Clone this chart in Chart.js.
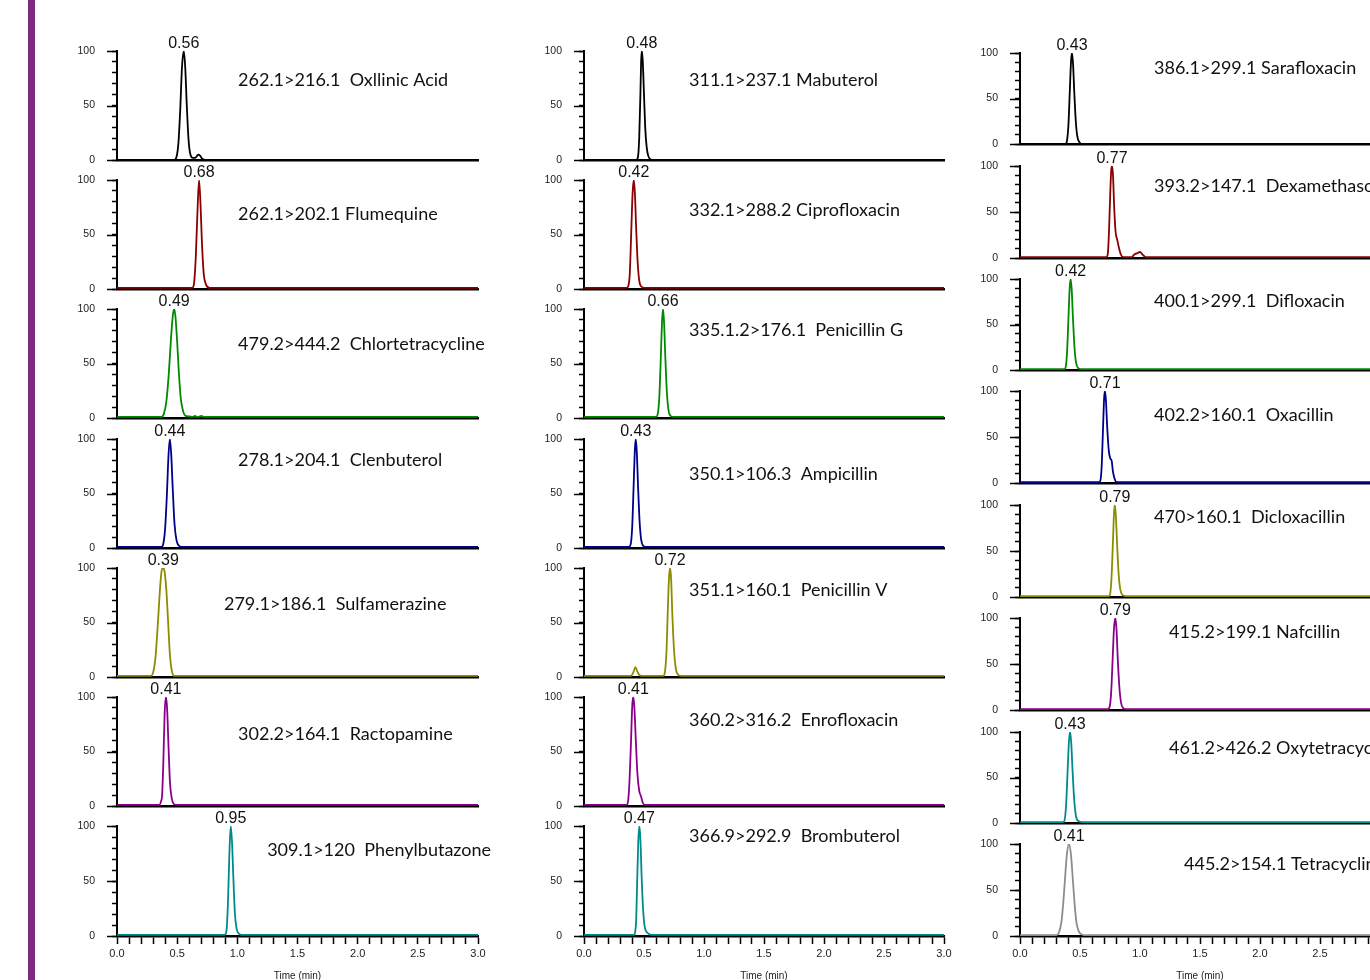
<!DOCTYPE html>
<html><head><meta charset="utf-8">
<script src="https://cdn.jsdelivr.net/npm/chart.js@4.4.1/dist/chart.umd.min.js"></script>
<style>
html,body{margin:0;padding:0;background:#fff;width:1370px;height:980px;overflow:hidden;position:relative;}
#bar{position:absolute;left:28px;top:0;width:7px;height:980px;background:#7B2C7F;}
canvas{position:absolute;}
</style></head><body>
<div id="bar"></div>
<script>
// ---------------- DATA ----------------
const compoundLabels = [
  '262.1>216.1  Oxllinic Acid', '262.1>202.1 Flumequine', '479.2>444.2  Chlortetracycline',
  '278.1>204.1  Clenbuterol', '279.1>186.1  Sulfamerazine', '302.2>164.1  Ractopamine',
  '309.1>120  Phenylbutazone',
  '311.1>237.1 Mabuterol', '332.1>288.2 Ciprofloxacin', '335.1.2>176.1  Penicillin G',
  '350.1>106.3  Ampicillin', '351.1>160.1  Penicillin V', '360.2>316.2  Enrofloxacin',
  '366.9>292.9  Brombuterol',
  '386.1>299.1 Sarafloxacin', '393.2>147.1  Dexamethasone', '400.1>299.1  Difloxacin',
  '402.2>160.1  Oxacillin', '470>160.1  Dicloxacillin', '415.2>199.1 Nafcillin',
  '461.2>426.2 Oxytetracycline', '445.2>154.1 Tetracycline'
];
const retentionLabels = [
  '0.56','0.68','0.49','0.44','0.39','0.41','0.95',
  '0.48','0.42','0.66','0.43','0.72','0.41','0.47',
  '0.43','0.77','0.42','0.71','0.79','0.79','0.43','0.41'
];
const xTickLabels = ['0.0','0.5','1.0','1.5','2.0','2.5','3.0'];
const yTickLabels = ['0','50','100'];
const axisTitle = 'Time (min)';

// traces: [time (min), relative intensity (%)]
const traceOxolinic = [[0,0],[0.475,0],[0.495,3],[0.51,15],[0.525,45],[0.54,85],[0.555,100],[0.567,85],[0.58,50],[0.595,18],[0.61,5],[0.63,2],[0.65,2],[0.675,5],[0.69,4],[0.71,1],[0.75,0],[3,0]];
const traceFlumequine = [[0,1],[0.625,1],[0.64,5],[0.655,30],[0.67,75],[0.682,100],[0.694,78],[0.705,45],[0.72,15],[0.74,4],[0.77,1],[3,1]];
const traceChlortetracycline = [[0,1],[0.37,1],[0.39,4],[0.41,15],[0.43,40],[0.45,75],[0.465,95],[0.475,100],[0.485,94],[0.5,70],[0.515,40],[0.53,18],[0.55,6],[0.57,2],[0.6,1.5],[0.63,1],[0.65,2],[0.66,1],[0.68,1],[0.7,2],[0.72,1],[3,1]];
const traceClenbuterol = [[0,1],[0.37,1],[0.385,4],[0.4,18],[0.415,50],[0.428,85],[0.439,100],[0.45,87],[0.463,55],[0.478,22],[0.495,7],[0.515,2],[0.536,1],[3,1]];
const traceSulfamerazine = [[0,1],[0.28,1],[0.3,4],[0.32,18],[0.34,50],[0.36,85],[0.372,98],[0.384,100],[0.395,97],[0.41,80],[0.425,50],[0.44,20],[0.455,6],[0.475,1],[3,1]];
const traceRactopamine = [[0,1],[0.355,1],[0.365,4],[0.375,10],[0.385,40],[0.396,85],[0.406,100],[0.416,90],[0.428,55],[0.44,22],[0.455,7],[0.47,2],[0.49,1],[3,1]];
const tracePhenylbutazone = [[0,1],[0.895,1],[0.91,5],[0.922,30],[0.934,75],[0.945,100],[0.956,85],[0.968,50],[0.98,20],[0.995,6],[1.015,2],[1.035,1],[3,1]];
const traceMabuterol = [[0,0],[0.435,0],[0.45,3],[0.46,20],[0.47,60],[0.476,90],[0.482,100],[0.49,90],[0.5,60],[0.51,30],[0.522,12],[0.535,4],[0.55,1],[0.565,0],[3,0]];
const traceCiprofloxacin = [[0,1],[0.355,1],[0.37,3],[0.382,15],[0.393,50],[0.405,88],[0.415,100],[0.424,88],[0.435,55],[0.447,25],[0.46,8],[0.48,2],[0.5,1],[3,1]];
const tracePenicillinG = [[0,1],[0.6,1],[0.615,4],[0.628,20],[0.64,55],[0.65,88],[0.658,100],[0.667,88],[0.678,55],[0.69,25],[0.703,8],[0.72,2],[0.74,1],[3,1]];
const traceAmpicillin = [[0,1],[0.375,1],[0.39,4],[0.402,20],[0.413,55],[0.423,88],[0.431,100],[0.44,88],[0.451,55],[0.463,25],[0.476,8],[0.493,2],[0.51,1],[3,1]];
const tracePenicillinV = [[0,1],[0.39,1],[0.41,4],[0.428,9],[0.445,5],[0.46,2],[0.48,1],[0.66,1],[0.675,5],[0.688,25],[0.698,60],[0.708,90],[0.717,100],[0.726,90],[0.737,55],[0.75,25],[0.765,8],[0.785,2],[0.81,1],[3,1]];
const traceEnrofloxacin = [[0,1],[0.355,1],[0.368,5],[0.38,25],[0.392,60],[0.402,92],[0.411,100],[0.42,90],[0.432,60],[0.445,30],[0.46,14],[0.475,9],[0.49,3],[0.505,1],[3,1]];
const traceBrombuterol = [[0,1],[0.42,1],[0.428,5],[0.435,15],[0.442,45],[0.452,85],[0.461,100],[0.47,88],[0.48,55],[0.492,25],[0.505,9],[0.52,4],[0.54,2],[0.56,1],[3,1]];
const traceSarafloxacin = [[0,0],[0.38,0],[0.392,4],[0.404,22],[0.415,58],[0.425,90],[0.433,100],[0.442,88],[0.453,55],[0.465,25],[0.478,8],[0.495,2],[0.512,0],[3,0]];
const traceDexamethasone = [[0,1],[0.72,1],[0.732,5],[0.742,30],[0.752,70],[0.76,95],[0.767,100],[0.775,90],[0.785,55],[0.797,28],[0.81,20],[0.823,12],[0.84,4],[0.86,1],[0.93,1],[0.955,4],[0.975,5],[1.0,6.5],[1.02,4],[1.047,1],[3,1]];
const traceDifloxacin = [[0,1],[0.37,1],[0.382,4],[0.393,22],[0.404,58],[0.414,90],[0.422,100],[0.431,88],[0.442,55],[0.454,25],[0.467,8],[0.485,2],[0.508,1],[3,1]];
const traceOxacillin = [[0,1],[0.66,1],[0.672,4],[0.682,22],[0.692,60],[0.701,92],[0.708,100],[0.716,90],[0.727,60],[0.74,35],[0.752,27],[0.764,24],[0.775,12],[0.79,4],[0.806,1],[3,1]];
const traceDicloxacillin = [[0,1],[0.74,1],[0.752,4],[0.763,22],[0.774,58],[0.783,90],[0.79,100],[0.799,88],[0.81,55],[0.822,25],[0.836,8],[0.855,2],[0.88,1],[3,1]];
const traceNafcillin = [[0,1],[0.732,1],[0.748,4],[0.76,20],[0.772,55],[0.783,88],[0.794,100],[0.804,88],[0.815,55],[0.828,25],[0.842,8],[0.86,2],[0.883,1],[3,1]];
const traceOxytetracycline = [[0,1],[0.36,1],[0.373,4],[0.385,22],[0.397,58],[0.408,90],[0.417,100],[0.427,88],[0.439,55],[0.452,25],[0.466,8],[0.488,2],[0.514,1],[3,1]];
const traceTetracycline = [[0,1],[0.305,1],[0.325,4],[0.345,15],[0.36,35],[0.375,62],[0.39,88],[0.408,100],[0.425,88],[0.44,62],[0.455,35],[0.47,15],[0.49,5],[0.51,2],[0.53,1],[3,1]];

const traces = [
  traceOxolinic, traceFlumequine, traceChlortetracycline, traceClenbuterol, traceSulfamerazine, traceRactopamine, tracePhenylbutazone,
  traceMabuterol, traceCiprofloxacin, tracePenicillinG, traceAmpicillin, tracePenicillinV, traceEnrofloxacin, traceBrombuterol,
  traceSarafloxacin, traceDexamethasone, traceDifloxacin, traceOxacillin, traceDicloxacillin, traceNafcillin, traceOxytetracycline, traceTetracycline
];

// ---------------- LAYOUT / STYLE ----------------
const rowColors = ['#000000','#8B0000','#008A00','#00008B','#8C8C00','#8B008B','#008B8B','#8C8C8C'];
const colLeft = [117, 584, 1020];
const colRight = [478, 944, 1380];
const rowTops = [[51,180,309,439,568,697,826],[51,180,309,439,568,697,826],[53,166,279,391,505,618,732,844]];
const rowBottoms = [[160,289,418,548,677,806,936],[160,289,418,548,677,806,936],[144,258,370,483,597,710,823,936]];
// anchor of compound labels (time, level) per panel
const labelTime = [1.006,1.006,1.006,1.006,0.889,1.006,1.248, 0.875,0.875,0.875,0.875,0.875,0.875,0.875, 1.117,1.117,1.117,1.117,1.117,1.242,1.242,1.367];
const labelLevel = [73,69,68,81,67,66,78, 73,72,81,68,80,79,91, 83,78,76,74,87,85,82,78];

const decor = {
  id: 'decor',
  afterDraw(chart, args, opts) {
    const i = opts.index;
    const ctx = chart.ctx, xs = chart.scales.x, ys = chart.scales.y;
    const left = chart.chartArea.left;
    ctx.save();
    // major y ticks
    ctx.strokeStyle = '#000'; ctx.lineWidth = 1.5;
    [0,50,100].forEach(v => {
      const y = Math.round(ys.getPixelForValue(v)) + 0.5;
      ctx.beginPath(); ctx.moveTo(left - 10, y); ctx.lineTo(left, y); ctx.stroke();
    });
    // retention-time label over apex
    const tr = traces[i];
    let m = 0; tr.forEach((p, k) => { if (p[1] > tr[m][1]) m = k; });
    ctx.fillStyle = '#111';
    ctx.font = '16px "Liberation Sans", Arial, sans-serif';
    ctx.textAlign = 'center'; ctx.textBaseline = 'alphabetic';
    ctx.fillText(retentionLabels[i], xs.getPixelForValue(tr[m][0]), ys.getPixelForValue(tr[m][1]) - 3);
    // compound label
    ctx.font = '18px Lato, "Open Sans", sans-serif';
    ctx.textAlign = 'left'; ctx.textBaseline = 'middle';
    ctx.fillStyle = '#111';
    ctx.fillText(compoundLabels[i], xs.getPixelForValue(labelTime[i]), ys.getPixelForValue(labelLevel[i]));
    ctx.restore();
  }
};

let idx = 0;
for (let c = 0; c < 3; c++) {
  const tops = rowTops[c], bots = rowBottoms[c];
  for (let r = 0; r < tops.length; r++) {
    const i = idx++;
    const isBottom = r === tops.length - 1;
    const L = colLeft[c], R = colRight[c], T = tops[r], B = bots[r];
    const padL = 62, padT = 28, padR = 14;
    const bottomH = isBottom ? 50 : 28;
    const w = padL + (R - L) + padR;
    const h = padT + (B - T) + bottomH;
    const cv = document.createElement('canvas');
    cv.width = w; cv.height = h;
    cv.style.left = (L - padL) + 'px'; cv.style.top = (T - padT) + 'px';
    cv.style.width = w + 'px'; cv.style.height = h + 'px';
    document.body.appendChild(cv);
    new Chart(cv, {
      type: 'line',
      data: { datasets: [{
        data: traces[i].map(p => ({ x: p[0], y: p[1] })),
        borderColor: rowColors[r], borderWidth: 1.8, pointRadius: 0,
        cubicInterpolationMode: 'monotone', fill: false
      }]},
      options: {
        responsive: false, animation: false, devicePixelRatio: 1,
        layout: { padding: { top: padT, left: 0, right: padR, bottom: 0 } },
        plugins: { legend: { display: false }, tooltip: { enabled: false }, decor: { index: i } },
        scales: {
          x: {
            type: 'linear', min: 0, max: 3,
            afterFit: s => { s.height = bottomH; },
            border: { display: true, color: '#000', width: 2.5 },
            grid: { display: true, drawOnChartArea: false, drawTicks: isBottom, tickLength: 8, tickWidth: 1.5, tickColor: '#000' },
            ticks: {
              display: isBottom, stepSize: 0.1, autoSkip: false, maxRotation: 0, padding: 3,
              font: { family: '"Liberation Sans", Arial, sans-serif', size: 11 }, color: '#222',
              callback: v => { const k = Math.round(v * 10); return k % 5 === 0 ? xTickLabels[k / 5] : ''; }
            },
            title: { display: isBottom, text: axisTitle, color: '#222',
              font: { family: '"Liberation Sans", Arial, sans-serif', size: 10 }, padding: { top: 0, bottom: 4 } }
          },
          y: {
            min: 0, max: 100,
            afterFit: s => { s.width = padL; },
            border: { display: true, color: '#000', width: 2 },
            grid: { drawOnChartArea: false, drawTicks: true, tickLength: 5, tickWidth: 1.5, tickColor: '#000' },
            ticks: {
              stepSize: 10, autoSkip: false, padding: 17,
              font: { family: '"Liberation Sans", Arial, sans-serif', size: 10.5 }, color: '#222',
              callback: v => { const k = Math.round(v); return k % 50 === 0 ? yTickLabels[k / 50] : ''; }
            }
          }
        }
      },
      plugins: [decor]
    });
  }
}
</script>
</body></html>
